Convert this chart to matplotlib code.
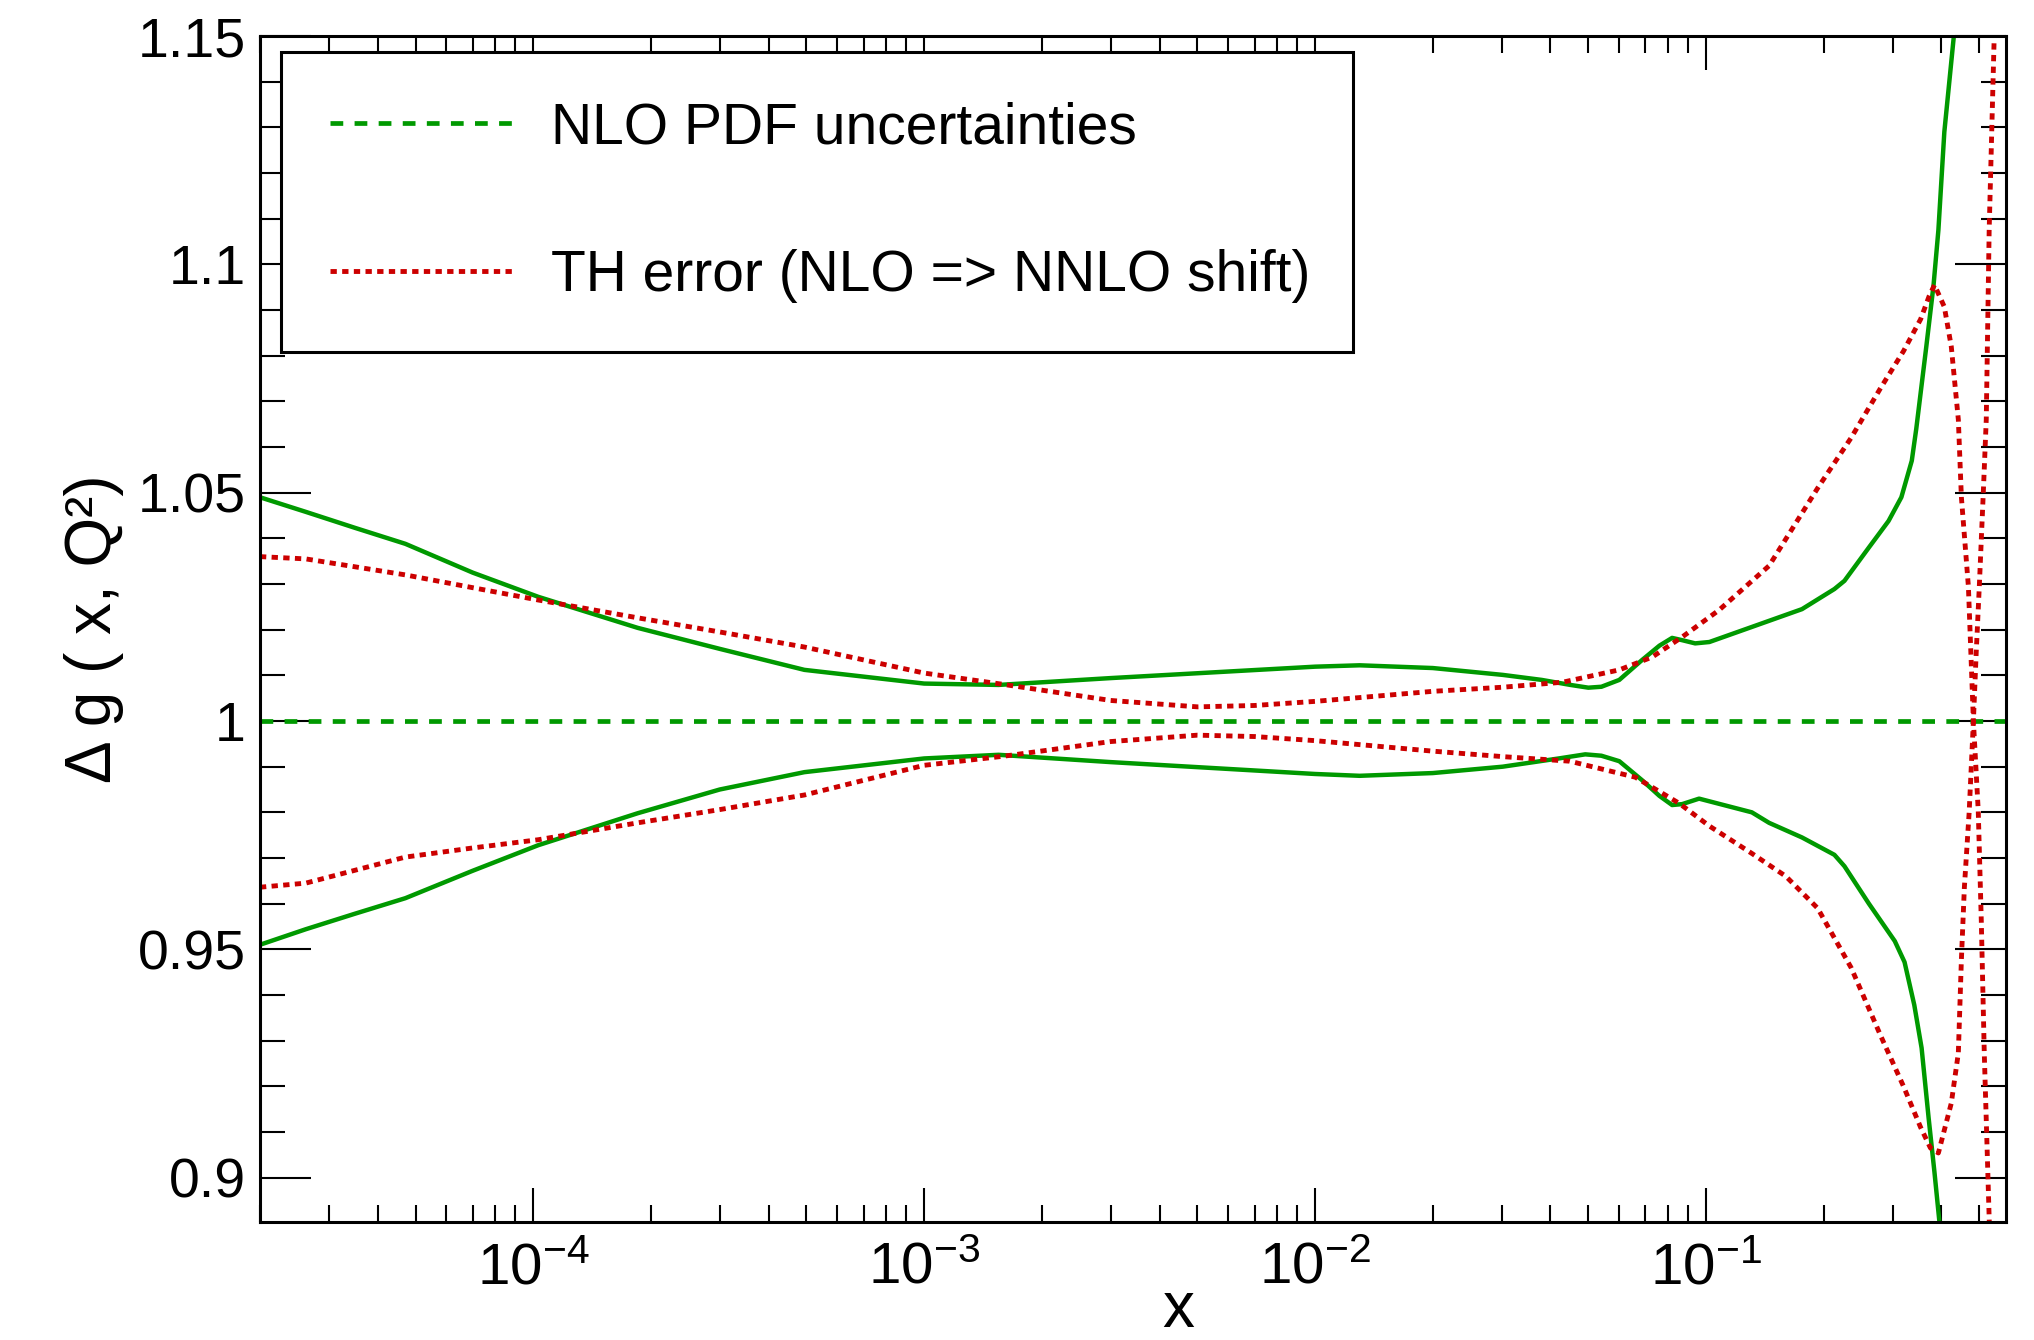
import matplotlib
matplotlib.use('Agg')
import matplotlib.pyplot as plt
from matplotlib.ticker import FixedLocator, LogLocator, MultipleLocator, NullFormatter

plt.rcParams['font.family'] = ['Liberation Sans', 'DejaVu Sans']
plt.rcParams['mathtext.fontset'] = 'custom'
plt.rcParams['mathtext.rm'] = 'Liberation Sans'
plt.rcParams['mathtext.it'] = 'Liberation Sans:italic'

GREEN = '#009900'
RED = '#cc0000'

# NLO PDF uncertainty band (upper / lower edge)
x_pdf_up = [2.0e-5, 2.62e-5, 3.5e-5, 4.71e-5, 7.0e-5, 1.03e-4, 1.85e-4, 3.0e-4, 4.94e-4,
            1.0e-3, 1.55e-3, 3.0e-3, 1.0e-2, 1.3e-2, 2.0e-2, 3.02e-2, 3.8e-2, 4.5e-2,
            5.0e-2, 5.4e-2, 6.0e-2, 6.87e-2, 7.6e-2, 8.19e-2, 8.69e-2, 9.38e-2, 1.02e-1,
            1.31e-1, 1.76e-1, 2.13e-1, 2.26e-1, 2.61e-1, 2.93e-1, 3.16e-1, 3.36e-1, 3.45e-1,
            3.66e-1, 3.82e-1, 3.93e-1, 4.07e-1, 4.30e-1, 4.45e-1]
pdf_up = [1.049, 1.0458, 1.0423, 1.0388, 1.0325, 1.0272, 1.0204, 1.0158, 1.0112,
          1.0082, 1.0079, 1.0094, 1.0119, 1.0122, 1.0116, 1.0101, 1.0090, 1.0079,
          1.0073, 1.0075, 1.0090, 1.0134, 1.0165, 1.0182, 1.0177, 1.0170, 1.0173,
          1.0206, 1.0245, 1.0289, 1.0307, 1.038, 1.0438, 1.049, 1.057, 1.064,
          1.082, 1.0955, 1.1075, 1.129, 1.1496, 1.165]

x_pdf_dn = [2.0e-5, 2.62e-5, 3.5e-5, 4.71e-5, 7.0e-5, 1.03e-4, 1.85e-4, 3.0e-4, 4.94e-4,
            1.0e-3, 1.55e-3, 3.0e-3, 1.0e-2, 1.3e-2, 2.0e-2, 3.02e-2, 4.2e-2, 4.91e-2,
            5.4e-2, 6.0e-2, 6.87e-2, 7.6e-2, 8.19e-2, 8.69e-2, 9.6e-2, 1.31e-1, 1.45e-1,
            1.76e-1, 2.13e-1, 2.26e-1, 2.61e-1, 3.04e-1, 3.22e-1, 3.41e-1, 3.56e-1, 3.71e-1,
            3.84e-1, 3.95e-1, 4.05e-1]
pdf_dn = [0.951, 0.9544, 0.9578, 0.9612, 0.9672, 0.9728, 0.9798, 0.9850, 0.9888,
          0.9918, 0.9926, 0.9910, 0.9884, 0.9880, 0.9886, 0.9900, 0.9918, 0.9927,
          0.9924, 0.9912, 0.9870, 0.9836, 0.9816, 0.9818, 0.9830, 0.9800, 0.9777,
          0.9745, 0.9707, 0.9682, 0.9600, 0.9518, 0.9472, 0.9378, 0.9284, 0.9131,
          0.9012, 0.8907, 0.880]

# theory error from NLO -> NNLO shift (upper / lower)
x_th_up = [2.0e-5, 2.62e-5, 4.71e-5, 7.0e-5, 1.03e-4, 1.85e-4, 3.0e-4, 4.94e-4, 1.0e-3,
           1.6e-3, 3.0e-3, 5.0e-3, 7.0e-3, 1.0e-2, 2.0e-2, 3.02e-2, 4.3e-2, 6.0e-2,
           7.28e-2, 8.69e-2, 1.08e-1, 1.45e-1, 1.93e-1, 2.35e-1, 2.8e-1, 3.2e-1, 3.54e-1,
           3.72e-1, 3.84e-1, 4.07e-1, 4.24e-1, 4.42e-1, 4.50e-1, 4.69e-1, 4.83e-1, 4.97e-1,
           5.06e-1, 5.15e-1, 5.30e-1, 5.40e-1]
th_up = [1.036, 1.0355, 1.032, 1.0292, 1.0265, 1.0226, 1.0195, 1.0162, 1.0105,
         1.0080, 1.0045, 1.0031, 1.0034, 1.0043, 1.0065, 1.0074, 1.0085, 1.0112,
         1.0140, 1.0184, 1.0243, 1.034, 1.051, 1.062, 1.073, 1.081, 1.088,
         1.093, 1.0955, 1.0907, 1.082, 1.066, 1.049, 1.0294, 1.000, 0.9803,
         0.9562, 0.9271, 0.8912, 0.870]

x_th_dn = [2.0e-5, 2.62e-5, 4.71e-5, 7.0e-5, 1.03e-4, 1.85e-4, 3.0e-4, 4.94e-4, 1.0e-3,
           1.6e-3, 3.0e-3, 5.0e-3, 7.0e-3, 1.0e-2, 2.0e-2, 3.02e-2, 4.48e-2, 6.59e-2,
           8.53e-2, 1.02e-1, 1.31e-1, 1.6e-1, 1.93e-1, 2.35e-1, 2.8e-1, 3.2e-1, 3.54e-1,
           3.75e-1, 3.93e-1, 4.24e-1, 4.42e-1, 4.50e-1, 4.58e-1, 4.71e-1, 4.83e-1, 4.91e-1,
           5.00e-1, 5.12e-1, 5.21e-1, 5.30e-1, 5.46e-1, 5.55e-1]
th_dn = [0.9636, 0.9645, 0.9702, 0.9722, 0.974, 0.9777, 0.9806, 0.9838, 0.9903,
         0.9923, 0.9955, 0.9969, 0.9966, 0.9957, 0.9934, 0.9922, 0.9912, 0.9877,
         0.9820, 0.9770, 0.9710, 0.9660, 0.9590, 0.9460, 0.9310, 0.9200, 0.9110,
         0.9065, 0.9054, 0.9163, 0.9273, 0.9477, 0.9636, 0.9799, 1.000, 1.0149,
         1.0293, 1.050, 1.066, 1.1075, 1.150, 1.170]

central = 1.0

y_ticks = [0.9, 0.95, 1.0, 1.05, 1.1, 1.15]
y_tick_labels = ['0.9', '0.95', '1', '1.05', '1.1', '1.15']
legend_labels = ['NLO PDF uncertainties', 'TH error (NLO => NNLO shift)']

fig = plt.figure(figsize=(20.34, 13.40), dpi=100)
ax = fig.add_axes([0.1278, 0.0881, 0.8584, 0.885])

dash_green = (0, (2.7, 2.4))
dot_red = (0, (1.3, 1.1))

ax.axhline(central, color=GREEN, lw=3.4, ls=dash_green, label=legend_labels[0])
ax.plot(x_pdf_up, pdf_up, color=GREEN, lw=3.2)
ax.plot(x_pdf_dn, pdf_dn, color=GREEN, lw=3.2)
ax.plot(x_th_up, th_up, color=RED, lw=3.5, ls=dot_red, label=legend_labels[1])
ax.plot(x_th_dn, th_dn, color=RED, lw=3.5, ls=dot_red)

ax.set_xscale('log')
ax.set_xlim(2e-5, 0.585)
ax.set_ylim(0.8903, 1.15)

ax.xaxis.set_major_locator(LogLocator(base=10, numticks=20))
ax.xaxis.set_minor_locator(LogLocator(base=10, subs=range(2, 10), numticks=20))
ax.xaxis.set_minor_formatter(NullFormatter())
ax.yaxis.set_major_locator(FixedLocator(y_ticks))
ax.set_yticklabels(y_tick_labels)
ax.yaxis.set_minor_locator(MultipleLocator(0.01))

ax.tick_params(axis='x', which='major', direction='in', length=24.5, width=1.5,
               top=True, labelsize=42, pad=14)
ax.tick_params(axis='x', which='minor', direction='in', length=12, width=1.5, top=True)
ax.tick_params(axis='y', which='major', direction='in', length=37, width=1.5,
               right=True, labelsize=40, pad=10)
ax.tick_params(axis='y', which='minor', direction='in', length=18, width=1.5, right=True)
for s in ax.spines.values():
    s.set_linewidth(2.2)

ax.set_xlabel('x', fontsize=46)
ax.xaxis.set_label_coords(0.526, -0.0885)
ax.xaxis.label.set_va('baseline')
ax.set_ylabel('Δ g ( x, Q²)', fontsize=46)
ax.yaxis.set_label_coords(-0.078, 0.5)

leg = ax.legend(loc='upper left', bbox_to_anchor=(0.012, 0.737, 0.614, 0.2495),
                mode='expand', fontsize=41, frameon=True, fancybox=False,
                edgecolor='black', framealpha=1, borderpad=0.86, labelspacing=1.65,
                handlelength=3.26, handletextpad=0.62, borderaxespad=0)
leg.get_frame().set_linewidth(2.2)

fig.savefig('out.png', dpi=100)
